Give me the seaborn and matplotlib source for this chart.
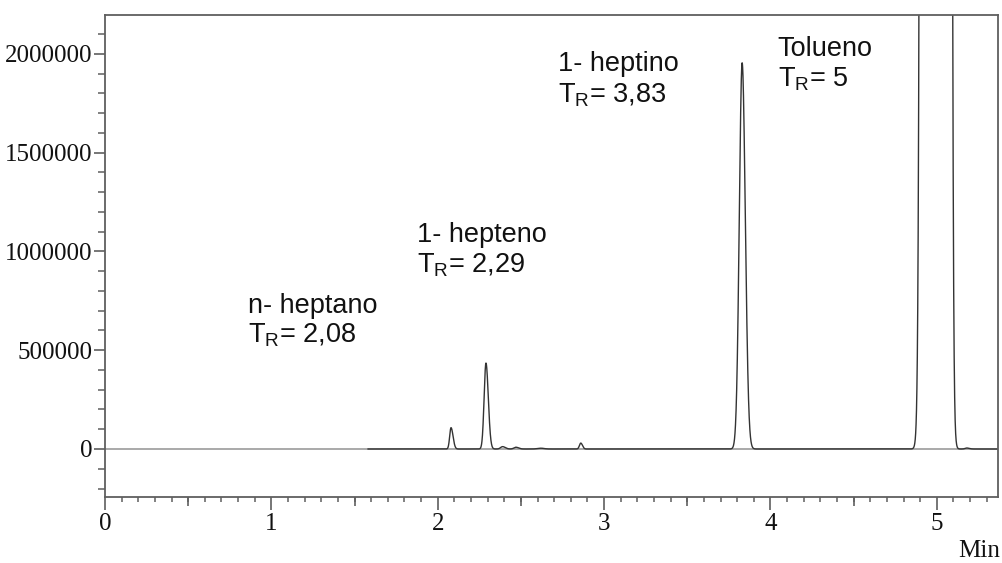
import numpy as np
import pandas as pd
import matplotlib
matplotlib.use("Agg")
import matplotlib.pyplot as plt
import seaborn as sns
from matplotlib.ticker import MultipleLocator, FuncFormatter, NullFormatter

# Identified compounds: name, retention time (min), peak height (counts),
# left / right peak widths (min). Toluene saturates the detector.
compound_names = ["n- heptano", "1- hepteno", "1- heptino", "Tolueno"]
compound_rt = [2.08, 2.29, 3.83, 5.0]
compound_height = [108000, 435000, 1955000, 1.0e10]
compound_sig_l = [0.008, 0.011, 0.017, 0.0262]
compound_sig_r = [0.012, 0.014, 0.019, 0.0234]

# Small unidentified peaks
minor_rt = [2.39, 2.47, 2.62, 2.86, 5.18]
minor_height = [12000, 9000, 4000, 30000, 5000]
minor_sig_l = [0.012, 0.012, 0.02, 0.008, 0.01]
minor_sig_r = [0.016, 0.016, 0.02, 0.010, 0.015]

# Acquisition window of the detector trace (min)
run_start, run_end = 1.58, 5.37

# Label anchors (data coords): x, baseline of name line, baseline of T_R line
label_pos = [(0.859, 688600, 536700),
             (1.875, 1048100, 891100),
             (2.722, 1913900, 1751900),
             (4.044, 1989800, 1832900)]

sns.set_style("ticks")
plt.rcParams["font.family"] = ["Liberation Sans", "DejaVu Sans"]
plt.rcParams["mathtext.fontset"] = "custom"
plt.rcParams["mathtext.rm"] = "Liberation Sans"
plt.rcParams["mathtext.it"] = "Liberation Sans:italic"


def asym_gauss(t, rt, h, sl, sr):
    s = np.where(t < rt, sl, sr)
    return h * np.exp(-0.5 * ((t - rt) / s) ** 2)


t = np.arange(run_start, run_end, 0.0005)
signal = np.zeros_like(t)
for rt, h, sl, sr in zip(compound_rt + minor_rt, compound_height + minor_height,
                         compound_sig_l + minor_sig_l, compound_sig_r + minor_sig_r):
    signal += asym_gauss(t, rt, h, sl, sr)
trace = pd.DataFrame({"Min": t, "signal": signal})

fig = plt.figure(figsize=(10.02, 5.63), dpi=100)
ax = fig.add_axes([105 / 1002, 1 - 497 / 563, 892.5 / 1002, 482 / 563])

ax.axhline(0, color="#a9a9a9", lw=1.4, zorder=1)
sns.lineplot(data=trace, x="Min", y="signal", ax=ax, color="#333333",
             lw=1.0, zorder=2, estimator=None, sort=False)

ax.set_xlim(0, 5.365)
ax.set_ylim(-243000, 2197000)
ax.set_xlabel("")
ax.set_ylabel("")

spine_col = "#5f5f5f"
for sp in ax.spines.values():
    sp.set_visible(True)
    sp.set_color(spine_col)
    sp.set_linewidth(1.3)

ax.xaxis.set_major_locator(MultipleLocator(1))
ax.xaxis.set_minor_locator(MultipleLocator(0.1))
ax.yaxis.set_major_locator(MultipleLocator(500000))
ax.yaxis.set_minor_locator(MultipleLocator(100000))
ax.yaxis.set_major_formatter(FuncFormatter(lambda v, p: f"{v:.0f}"))
ax.xaxis.set_major_formatter(FuncFormatter(lambda v, p: f"{v:.0f}"))

tick_font = "Liberation Serif"
ax.tick_params(axis="x", which="major", direction="out", length=9.5, width=1.2,
               color=spine_col, pad=2, labelsize=18, top=False)
ax.tick_params(axis="x", which="minor", direction="out", length=3.8, width=1.1,
               color=spine_col, top=False)
ax.tick_params(axis="y", which="major", direction="out", length=8, width=1.2,
               color=spine_col, pad=1, labelsize=18, right=False)
ax.tick_params(axis="y", which="minor", direction="out", length=5, width=1.1,
               color=spine_col, right=False)
for lbl in ax.get_xticklabels() + ax.get_yticklabels():
    lbl.set_fontfamily(tick_font)
    lbl.set_color("#111111")

# half-minute ticks, a little longer than the tenth-minute ones
sec = ax.secondary_xaxis("bottom")
sec.set_xticks(np.arange(0.5, 5.4, 1.0))
sec.xaxis.set_major_formatter(NullFormatter())
sec.tick_params(axis="x", which="major", direction="out", length=6.5, width=1.2,
                color=spine_col)
sec.tick_params(axis="x", which="minor", length=0)
sec.spines["bottom"].set_visible(False)

fig.text(1000 / 1002, 1 - 557 / 563, "Min", ha="right", va="baseline",
         fontsize=18, family=tick_font, color="#111111")

for name, rt, (lx, y1, y2) in zip(compound_names, compound_rt, label_pos):
    rt_txt = f"{rt:g}".replace(".", ",")
    ax.text(lx, y1, name, fontsize=19.5, va="baseline", ha="left", color="#111111")
    ax.text(lx, y2, r"T$_\mathrm{R}$= " + rt_txt, fontsize=19.5, va="baseline",
            ha="left", color="#111111")

fig.savefig("out.png", dpi=100, facecolor="white")
